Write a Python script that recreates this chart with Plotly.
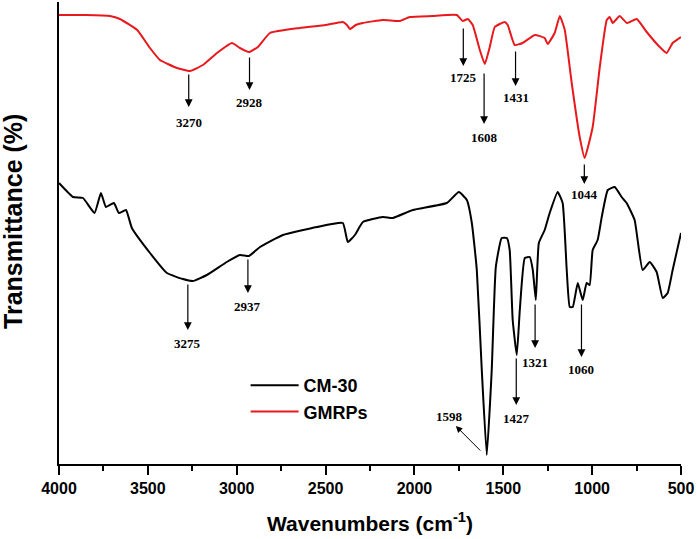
import plotly.graph_objects as go

# ---- data ----
gmrps_wn = [4000,3850,3713,3657,3560,3488,3432,3336,3263,3190,3111,3027,2982,2931,2881,2813,2645,2500,2403,2380,2363,2330,2290,2178,2082,2026,1900,1762,1728,1700,1672,1632,1604,1576,1548,1492,1475,1436,1391,1323,1267,1250,1211,1182,1154,1115,1070,1042,997,957,918,901,884,845,805,749,693,620,581,547,500]
gmrps_t = [449,449,448,445,434,416,404,396,393,399,411,421,416,412,417,431,436,439,442,439,435,439,441,444,443,447,448,449,443,445,439,414,400,417,437,442,439,419,421,429,426,420,431,448,434,381,327,306,337,397,444,447,441,448,441,445,432,417,411,421,427]

cm30_wn = [4000,3921,3865,3800,3764,3736,3691,3663,3623,3590,3488,3393,3303,3247,3168,3056,2982,2931,2869,2740,2549,2403,2375,2335,2290,2178,2122,2009,1818,1750,1705,1677,1649,1621,1593,1565,1542,1509,1480,1464,1447,1424,1407,1379,1351,1334,1317,1300,1267,1239,1194,1166,1143,1126,1109,1081,1053,1031,1014,997,969,946,912,873,834,806,761,716,676,637,603,575,547,500]
cm30_t = [281,267,266,251,271,257,261,251,254,236,211,191,185,183,189,202,209,208,217,229,237,241,222,229,242,247,246,254,261,272,264,241,194,94,9,94,197,226,226,214,144,109,154,206,207,194,164,221,234,251,272,261,194,157,157,181,164,181,179,214,224,247,274,277,267,261,244,194,202,192,166,171,194,231]

gmrps_peaks = [3270, 2928, 1725, 1608, 1431, 1044]
cm30_peaks = [3275, 2937, 1427, 1321, 1060]
diag_peak = 1598

x_ticks = [4000, 3500, 3000, 2500, 2000, 1500, 1000, 500]

# ---- layout helpers (arrow tail, head, text y in plot units) ----
gmrps_arrows = [(391, 357, 342), (408, 374, 362), (437, 398, 387), (392, 340, 327), (414, 378, 367), (301, 280, 270)]
cm30_arrows = [(181, 134, 121), (206, 171, 158), (107, 59, 46), (161, 116, 102), (161, 107, 95)]

fig = go.Figure()
fig.add_trace(go.Scatter(x=cm30_wn, y=cm30_t, mode="lines", name="<b>CM-30</b>",
                         line=dict(color="black", width=2, shape="spline", smoothing=0.4)))
fig.add_trace(go.Scatter(x=gmrps_wn, y=gmrps_t, mode="lines", name="<b>GMRPs</b>",
                         line=dict(color="#e8191c", width=2, shape="spline", smoothing=0.4)))

ann = []
lab_font = dict(family="Liberation Serif, Times New Roman", size=13, color="black")
for pk, (tail, head, ty) in list(zip(gmrps_peaks, gmrps_arrows)) + list(zip(cm30_peaks, cm30_arrows)):
    ann.append(dict(x=pk, y=head, ax=pk, ay=tail, axref="x", ayref="y", xref="x", yref="y",
                    text="", showarrow=True, arrowhead=2, arrowsize=1.3, arrowwidth=1.2,
                    arrowcolor="black", standoff=0, startstandoff=0))
    ann.append(dict(x=pk, y=ty, xref="x", yref="y", text="<b>%d</b>" % pk, showarrow=False,
                    font=lab_font, xanchor="center", yanchor="middle"))
# diagonal arrow for 1598
ann.append(dict(x=1767, y=38, ax=1621, ay=12, axref="x", ayref="y", xref="x", yref="y",
                text="", showarrow=True, arrowhead=2, arrowsize=1.3, arrowwidth=1,
                arrowcolor="black", standoff=0, startstandoff=0))
ann.append(dict(x=1801, y=48, xref="x", yref="y", text="<b>%d</b>" % diag_peak, showarrow=False,
                font=lab_font, xanchor="center", yanchor="middle"))
# y-axis title
ann.append(dict(x=-0.074, y=0.526, xref="paper", yref="paper", text="<b>Transmittance (%)</b>",
                textangle=-90, showarrow=False, xanchor="center", yanchor="middle",
                font=dict(family="Liberation Sans, Arial", size=25, color="black")))

fig.update_layout(
    width=697, height=539,
    margin=dict(l=59, r=16, t=2, b=75),
    plot_bgcolor="white", paper_bgcolor="white",
    showlegend=True,
    legend=dict(x=0.3, y=0.21, xanchor="left", yanchor="top",
                font=dict(family="Liberation Sans, Arial", size=18, color="black"),
                bgcolor="rgba(0,0,0,0)", tracegroupgap=0, itemwidth=48),
    annotations=ann,
    font=dict(family="Liberation Sans, Arial", color="black"),
)
fig.update_xaxes(range=[4000, 500], tickvals=x_ticks,
                 ticktext=["<b>%d</b>" % v for v in x_ticks],
                 tickfont=dict(family="Liberation Sans, Arial", size=16, color="black"),
                 showline=True, linecolor="black", linewidth=2, mirror=False,
                 ticks="outside", ticklen=9, tickwidth=1.5, tickcolor="black",
                 minor=dict(ticks="outside", ticklen=5, tickwidth=1.5, tickcolor="black", dtick=250),
                 showgrid=False, zeroline=False,
                 title=dict(text="<b>Wavenumbers (cm<sup>-1</sup>)</b>", standoff=20,
                            font=dict(family="Liberation Sans, Arial", size=21, color="black")))
fig.update_yaxes(range=[0, 462], showticklabels=False, ticks="", showgrid=False, zeroline=False,
                 showline=True, linecolor="black", linewidth=2, mirror=False)

fig.write_html("out.html", config={"displayModeBar": False},
               post_script="document.body.style.margin='0px';")
